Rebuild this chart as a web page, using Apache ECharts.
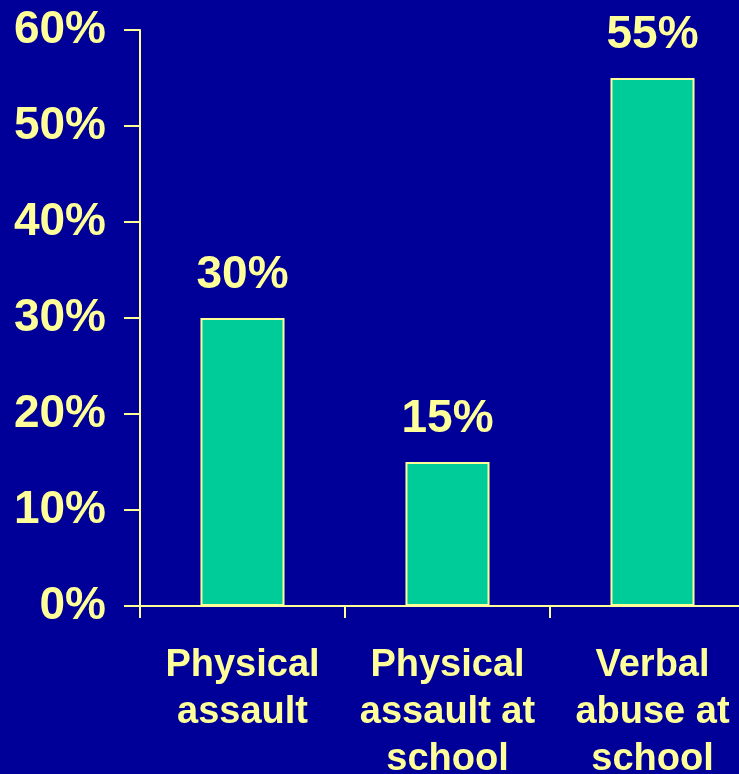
<!DOCTYPE html>
<html>
<head>
<meta charset="utf-8">
<script src="https://cdn.jsdelivr.net/npm/echarts@6/dist/echarts.min.js"></script>
<style>html,body{margin:0;padding:0;background:#000099;overflow:hidden;}#c{width:739px;height:774px;}</style>
</head>
<body>
<div id="c"></div>
<script>
const categories = ['Physical\nassault', 'Physical\nassault at\nschool', 'Verbal\nabuse at\nschool'];
const values = [30, 15, 55];
const yTicks = { min: 0, max: 60, interval: 10 };

const txt = '#FFFF99';
const chart = echarts.init(document.getElementById('c'));
chart.setOption({
  backgroundColor: '#000099',
  animation: false,
  grid: { left: 140, top: 30, width: 615, height: 576, containLabel: false, outerBoundsMode: 'none' },
  xAxis: {
    type: 'category',
    data: categories,
    axisLine: { lineStyle: { color: txt, width: 2 } },
    axisTick: { show: true, length: 12, lineStyle: { color: txt, width: 2 } },
    axisLabel: {
      color: txt, fontFamily: 'Liberation Sans, Arial, sans-serif', fontWeight: 'bold',
      fontSize: 38, lineHeight: 47, margin: 36, interval: 0
    }
  },
  yAxis: {
    type: 'value',
    min: yTicks.min, max: yTicks.max, interval: yTicks.interval,
    splitLine: { show: false },
    axisLine: { show: true, lineStyle: { color: txt, width: 2 } },
    axisTick: { show: true, length: 16, lineStyle: { color: txt, width: 2 } },
    axisLabel: {
      color: txt, fontFamily: 'Liberation Sans, Arial, sans-serif', fontWeight: 'bold',
      fontSize: 46, margin: 34, formatter: v => v + '%'
    }
  },
  series: [{
    type: 'bar',
    data: values,
    barWidth: '41%',
    itemStyle: { color: '#00CC99', borderColor: txt, borderWidth: 2 },
    label: {
      show: true, position: 'top', distance: 20,
      color: txt, fontFamily: 'Liberation Sans, Arial, sans-serif', fontWeight: 'bold',
      fontSize: 46, formatter: p => p.value + '%'
    }
  }]
});
</script>
</body>
</html>
